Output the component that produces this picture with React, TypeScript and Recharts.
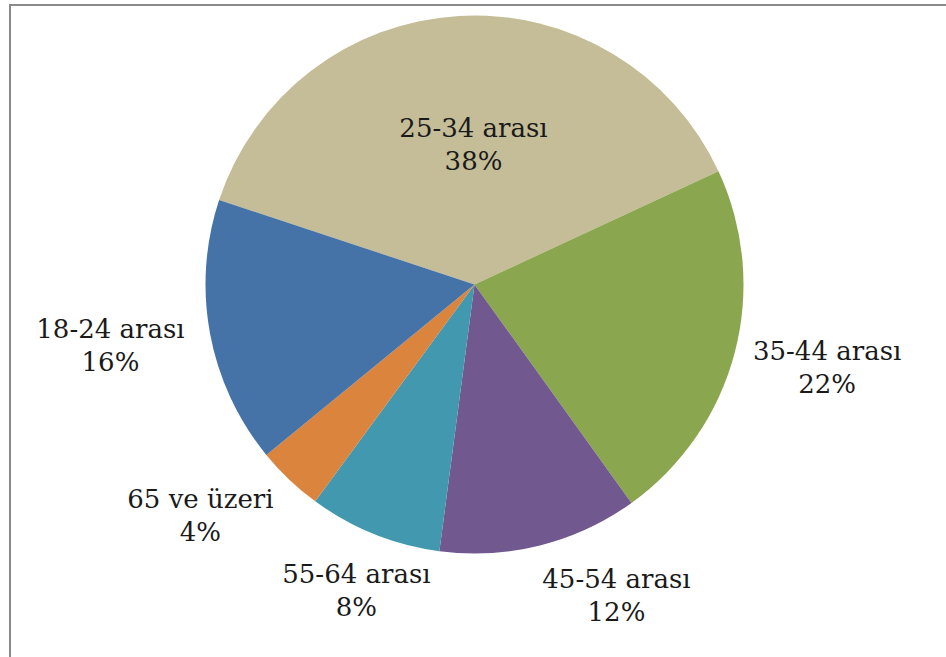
import React from 'react';
import { PieChart, Pie, Cell } from 'recharts';

// age groups, in the order the slices run clockwise from the left
const ageGroups = ['25-34 arası', '35-44 arası', '45-54 arası', '55-64 arası', '65 ve üzeri', '18-24 arası'];
const shares = [38, 22, 12, 8, 4, 16];

const sliceColors = ['#C4BD97', '#8AA64F', '#71588F', '#4198AF', '#DB843D', '#4572A7'];

// label placement: radius as a multiple of the outer radius, and an angle nudge (degrees)
const labelPlacement = [
  { r: 0.524, da: -2.9 },
  { r: 1.346, da: 1.6 },
  { r: 1.268, da: 10.5 },
  { r: 1.219, da: 0.8 },
  { r: 1.332, da: -6.4 },
  { r: 1.372, da: -1 },
];

const data = ageGroups.map((name, i) => ({ name, value: shares[i] }));

const RAD = Math.PI / 180;
const FONT = '"DejaVu Serif", serif';

function renderLabel(props: any) {
  const { cx, cy, midAngle, outerRadius, index, name, value } = props;
  const p = labelPlacement[index];
  const a = (midAngle + p.da) * RAD;
  const x = cx + outerRadius * p.r * Math.cos(a);
  const y = cy - outerRadius * p.r * Math.sin(a);
  return (
    <text x={x} y={y} textAnchor="middle" fill="#1a1a1a" fontFamily={FONT} fontSize={26}>
      <tspan x={x} y={y - 7}>{name}</tspan>
      <tspan x={x} y={y + 26}>{value}%</tspan>
    </text>
  );
}

export default function App() {
  return (
    <div style={{ position: 'absolute', left: 0, top: 0, width: 946, height: 657, background: '#fff', overflow: 'hidden' }}>
      <div
        style={{
          position: 'absolute',
          left: 9,
          top: 4,
          right: -10,
          bottom: -10,
          borderTop: '2px solid #8a8a8a',
          borderLeft: '2px solid #8a8a8a',
        }}
      />
      <div style={{ position: 'absolute', left: 0, top: 0 }}>
        <PieChart width={946} height={657} margin={{ top: 0, right: 0, bottom: 0, left: 0 }}>
          <Pie
            data={data}
            dataKey="value"
            nameKey="name"
            cx={474.5}
            cy={284.5}
            outerRadius={269}
            startAngle={161.7}
            endAngle={-198.3}
            stroke="none"
            label={renderLabel}
            labelLine={false}
            isAnimationActive={false}
          >
            {data.map((d, i) => (
              <Cell key={d.name} fill={sliceColors[i]} />
            ))}
          </Pie>
        </PieChart>
      </div>
    </div>
  );
}
